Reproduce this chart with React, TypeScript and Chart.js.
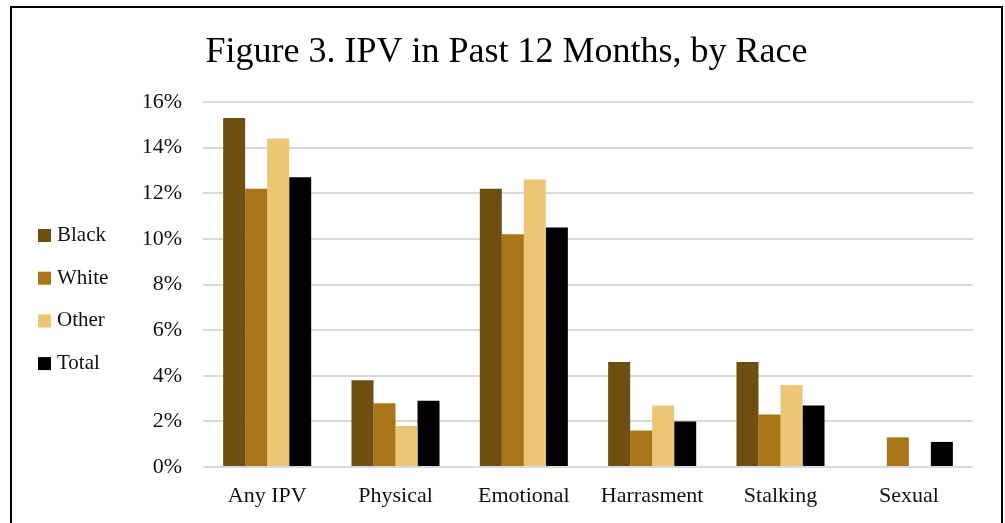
import React, { useEffect, useRef } from "react";
import { Chart, registerables } from "chart.js";

Chart.register(...registerables);

const categories = ["Any IPV", "Physical", "Emotional", "Harrasment", "Stalking", "Sexual"];
const blackValues = [15.3, 3.8, 12.2, 4.6, 4.6, 0];
const whiteValues = [12.2, 2.8, 10.2, 1.6, 2.3, 1.3];
const otherValues = [14.4, 1.8, 12.6, 2.7, 3.6, 0];
const totalValues = [12.7, 2.9, 10.5, 2.0, 2.7, 1.1];
const seriesNames = ["Black", "White", "Other", "Total"];
const seriesColors = ["#704D10", "#A87518", "#ECC576", "#000000"];
const yTicks = [0, 2, 4, 6, 8, 10, 12, 14, 16];
const titleText = "Figure 3. IPV in Past 12 Months, by Race";

const FONT = "'Liberation Serif', 'DejaVu Serif', serif";

const legendPlugin = {
  id: "leftLegend",
  afterDraw(chart: any) {
    const ctx = chart.ctx;
    ctx.save();
    const boxX = 26;
    const textX = 45;
    const firstCenter = 227.5;
    const step = 42.7;
    chart.data.datasets.forEach((ds: any, i: number) => {
      const cy = firstCenter + i * step;
      ctx.fillStyle = ds.backgroundColor;
      ctx.fillRect(boxX, cy - 6.5, 13, 13);
      ctx.fillStyle = "#111";
      ctx.font = `21px ${FONT}`;
      ctx.textBaseline = "middle";
      ctx.textAlign = "left";
      ctx.fillText(ds.label, textX, cy);
    });
    ctx.restore();
  },
};

const titlePlugin = {
  id: "centerTitle",
  afterDraw(chart: any) {
    const ctx = chart.ctx;
    ctx.save();
    ctx.fillStyle = "#000";
    ctx.font = `36px ${FONT}`;
    ctx.textAlign = "center";
    ctx.textBaseline = "alphabetic";
    ctx.fillText(titleText, chart.width / 2, 54);
    ctx.restore();
  },
};

export default function App() {
  const ref = useRef<HTMLCanvasElement | null>(null);

  useEffect(() => {
    document.body.style.margin = "0";
    const datasetsValues = [blackValues, whiteValues, otherValues, totalValues];
    const chart = new Chart(ref.current as HTMLCanvasElement, {
      type: "bar",
      data: {
        labels: categories,
        datasets: datasetsValues.map((vals, i) => ({
          label: seriesNames[i],
          data: vals,
          backgroundColor: seriesColors[i],
          borderWidth: 0,
          categoryPercentage: 0.686,
          barPercentage: 1,
        })),
      },
      options: {
        responsive: false,
        animation: false,
        layout: { padding: { left: 0, right: 28, top: 94, bottom: 0 } },
        plugins: {
          legend: { display: false },
          tooltip: { enabled: false },
          title: { display: false },
        },
        scales: {
          x: {
            grid: { display: false, drawTicks: false },
            border: { display: false },
            ticks: {
              color: "#111",
              font: { family: FONT, size: 22 },
              padding: 16,
              maxRotation: 0,
            },
            afterFit(scale: any) {
              scale.height = 56;
            },
          },
          y: {
            min: 0,
            max: 16,
            afterBuildTicks(scale: any) {
              scale.ticks = yTicks.map((v) => ({ value: v }));
            },
            grid: { color: "#d9d9d9", lineWidth: 2, drawTicks: false },
            border: { display: false },
            ticks: {
              color: "#111",
              font: { family: FONT, size: 22 },
              padding: 21,
              callback: (v: any) => `${v}%`,
            },
            afterFit(scale: any) {
              scale.width = 191;
            },
          },
        },
      },
      plugins: [legendPlugin, titlePlugin],
    });
    return () => chart.destroy();
  }, []);

  return (
    <div
      style={{
        position: "absolute",
        left: 10,
        top: 6,
        width: 989,
        height: 530,
        border: "2px solid #000",
        background: "#fff",
        overflow: "hidden",
      }}
    >
      <canvas ref={ref} width={989} height={515} style={{ display: "block" }} />
    </div>
  );
}
